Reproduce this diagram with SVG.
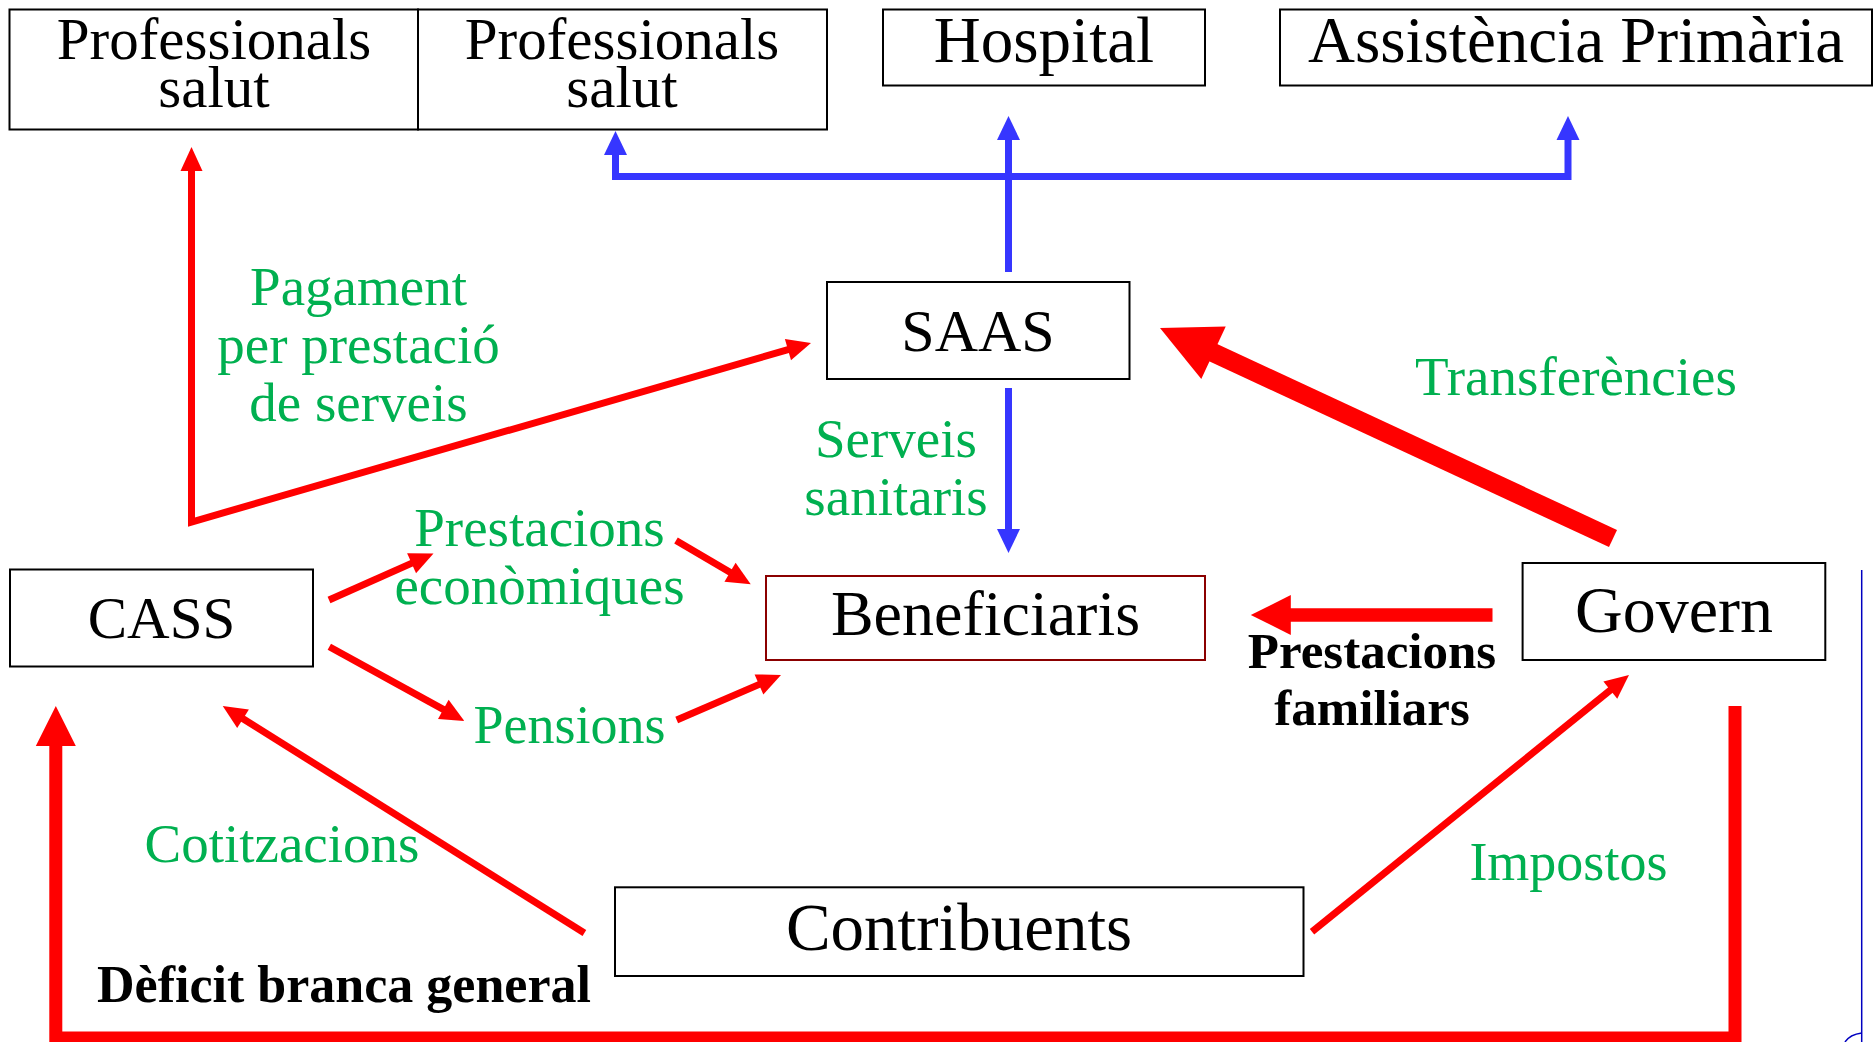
<svg xmlns="http://www.w3.org/2000/svg" width="1874" height="1042" viewBox="0 0 1874 1042">
<style>
.box{fill:#fff;stroke:#000;stroke-width:2}
.bx{fill:#fff;stroke:#8b0000;stroke-width:2}
.t{font-family:"Liberation Serif","Times New Roman",serif;fill:#000;text-anchor:middle}
.g{font-family:"Liberation Serif","Times New Roman",serif;fill:#00b050;text-anchor:middle;font-size:55px}
.b{font-family:"Liberation Serif","Times New Roman",serif;fill:#000;text-anchor:middle;font-weight:bold}
.r{fill:none;stroke:#ff0000;stroke-width:7;stroke-linejoin:miter}
.bl{fill:none;stroke:#3636ff;stroke-width:7;stroke-linejoin:miter}
</style>
<defs>
<marker id="rs" markerUnits="userSpaceOnUse" viewBox="0 -11 24 22" refX="1" refY="0" markerWidth="24" markerHeight="22" orient="auto-start-reverse" overflow="visible"><path d="M0,-11 L24,0 L0,11 z" fill="#ff0000"/></marker>
<marker id="bs" markerUnits="userSpaceOnUse" viewBox="0 -11.5 24 23" refX="1" refY="0" markerWidth="24" markerHeight="23" orient="auto-start-reverse" overflow="visible"><path d="M0,-11.5 L24,0 L0,11.5 z" fill="#3636ff"/></marker>
<marker id="rm" markerUnits="userSpaceOnUse" viewBox="0 -20 40 40" refX="1" refY="0" markerWidth="40" markerHeight="40" orient="auto" overflow="visible"><path d="M0,-20 L40,0 L0,20 z" fill="#ff0000"/></marker>
<marker id="rl" markerUnits="userSpaceOnUse" viewBox="0 -29 59 58" refX="1" refY="0" markerWidth="59" markerHeight="58" orient="auto" overflow="visible"><path d="M0,-29 L59,0 L0,29 z" fill="#ff0000"/></marker>
</defs>

<g id="connectors">
<path class="bl" d="M615.5,154 L615.5,176.5 L1568,176.5 L1568,139" marker-start="url(#bs)" marker-end="url(#bs)"/>
<path class="bl" d="M1008.5,272 L1008.5,139" marker-end="url(#bs)"/>
<path class="bl" d="M1008.5,388 L1008.5,530" marker-end="url(#bs)"/>
<path class="r" d="M191.5,170 L191.5,522 L788.9,349.4" marker-start="url(#rs)" marker-end="url(#rs)"/>
<path class="r" d="M329,600 L412.5,562.9" marker-end="url(#rs)"/>
<path class="r" d="M676,540.5 L730.9,572.7" marker-end="url(#rs)"/>
<path class="r" d="M329.3,646.7 L444.2,709.9" marker-end="url(#rs)"/>
<path class="r" d="M676.7,720 L759.9,684.1" marker-end="url(#rs)"/>
<path class="r" d="M584.4,933 L242.2,718.2" marker-end="url(#rs)"/>
<path class="r" d="M1312,931.7 L1611.1,689.5" marker-end="url(#rs)"/>
<path class="r" style="stroke-width:13.3" d="M1492.5,615 L1289.8,615" marker-end="url(#rm)"/>
<path class="r" style="stroke-width:13" d="M1735,706 L1735,1038 L55.8,1038 L55.8,745" marker-end="url(#rm)"/>
<path class="r" style="stroke-width:19" d="M1613,538.5 L1212.6,352.4" marker-end="url(#rl)"/>
</g>

<g id="node-professionals-1">
<rect class="box" x="9.5" y="9.5" width="408.5" height="120"/>
<text class="t" font-size="59" x="214" y="59.3">Professionals</text>
<text class="t" font-size="59" x="214" y="106.7">salut</text>
</g>
<g id="node-professionals-2">
<rect class="box" x="418" y="9.5" width="409" height="120"/>
<text class="t" font-size="59" x="622" y="59.3">Professionals</text>
<text class="t" font-size="59" x="622" y="106.7">salut</text>
</g>
<g id="node-hospital">
<rect class="box" x="883" y="9.5" width="322" height="76"/>
<text class="t" font-size="65" x="1044" y="61.7">Hospital</text>
</g>
<g id="node-assistencia">
<rect class="box" x="1280" y="9.5" width="592" height="76"/>
<text class="t" font-size="65" x="1576" y="61.7">Assistència Primària</text>
</g>
<g id="node-saas">
<rect class="box" x="827" y="282" width="302.5" height="97"/>
<text class="t" font-size="60" x="978" y="350.7">SAAS</text>
</g>
<g id="node-cass">
<rect class="box" x="10" y="569.5" width="303" height="97"/>
<text class="t" font-size="59" x="161.5" y="638">CASS</text>
</g>
<g id="node-beneficiaris">
<rect class="bx" x="766" y="576" width="439" height="84"/>
<text class="t" font-size="64" x="985.5" y="634.7">Beneficiaris</text>
</g>
<g id="node-govern">
<rect class="box" x="1522.6" y="563" width="302.7" height="97"/>
<text class="t" font-size="66" x="1674" y="631.7">Govern</text>
</g>
<g id="node-contribuents">
<rect class="box" x="615" y="887.3" width="688.5" height="88.7"/>
<text class="t" font-size="67" x="959" y="950">Contribuents</text>
</g>

<g id="labels">
<text class="g" x="358.5" y="305">Pagament</text>
<text class="g" x="358.5" y="362.8">per prestació</text>
<text class="g" x="358.5" y="420.6">de serveis</text>
<text class="g" x="896" y="456.7">Serveis</text>
<text class="g" x="896" y="515">sanitaris</text>
<text class="g" x="1576" y="395">Transferències</text>
<text class="g" x="539.5" y="546">Prestacions</text>
<text class="g" x="539.5" y="604">econòmiques</text>
<text class="g" font-size="54" x="569.6" y="743.3" style="font-size:54px">Pensions</text>
<text class="g" x="282" y="861.7">Cotitzacions</text>
<text class="g" x="1568.4" y="880" style="font-size:54px">Impostos</text>
<text class="b" font-size="51" x="1372" y="668.3">Prestacions</text>
<text class="b" font-size="51" x="1372" y="725">familiars</text>
<text class="b" font-size="52" x="344" y="1001.7">Dèficit branca general</text>
</g>

<g id="slide-edge">
<path d="M1861.7,570 L1861.7,1042" fill="none" stroke="#0000c0" stroke-width="1.5"/>
<path d="M1845,1042 Q1850,1034.5 1861.7,1033" fill="none" stroke="#0000c0" stroke-width="1.5"/>
</g>
</svg>
